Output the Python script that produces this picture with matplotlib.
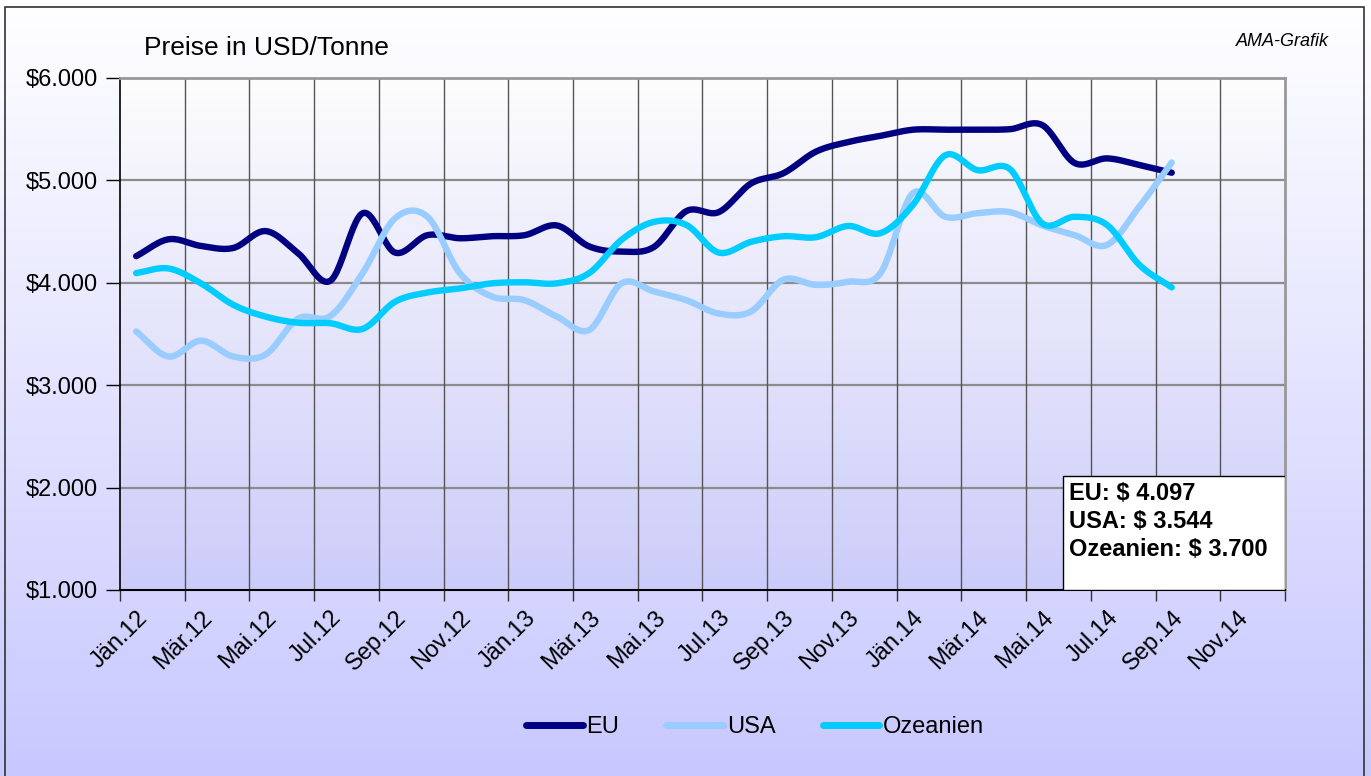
import numpy as np
import matplotlib
matplotlib.use("Agg")
import matplotlib.pyplot as plt
from matplotlib.patches import Rectangle
from matplotlib.ticker import FixedLocator, FuncFormatter
from matplotlib.colors import LinearSegmentedColormap

# ---------------- data ----------------
months = ["Jän.12", "Feb.12", "Mär.12", "Apr.12", "Mai.12", "Jun.12", "Jul.12", "Aug.12",
          "Sep.12", "Okt.12", "Nov.12", "Dez.12",
          "Jän.13", "Feb.13", "Mär.13", "Apr.13", "Mai.13", "Jun.13", "Jul.13", "Aug.13",
          "Sep.13", "Okt.13", "Nov.13", "Dez.13",
          "Jän.14", "Feb.14", "Mär.14", "Apr.14", "Mai.14", "Jun.14", "Jul.14", "Aug.14",
          "Sep.14", "Okt.14", "Nov.14", "Dez.14"]

eu = [4260, 4425, 4360, 4340, 4505, 4290, 4020, 4680, 4295, 4465, 4435, 4455,
      4465, 4560, 4355, 4305, 4350, 4700, 4690, 4970, 5070, 5280, 5375, 5435,
      5495, 5495, 5495, 5500, 5540, 5170, 5215, 5150, 5075]
usa = [3525, 3280, 3435, 3280, 3300, 3650, 3675, 4095, 4630, 4645, 4095, 3865,
       3830, 3670, 3540, 3995, 3915, 3830, 3700, 3720, 4030, 3980, 4010, 4095,
       4875, 4645, 4680, 4690, 4560, 4465, 4370, 4745, 5175]
ozeanien = [4095, 4140, 3995, 3785, 3670, 3610, 3605, 3550, 3815, 3905, 3945, 3995,
            4005, 3995, 4095, 4420, 4595, 4565, 4295, 4400, 4455, 4445, 4555, 4485,
            4760, 5245, 5100, 5110, 4580, 4645, 4565, 4175, 3955]

series_names = ["EU", "USA", "Ozeanien"]
series_colors = ["#000080", "#99ccff", "#00ccff"]
yticks = [1000, 2000, 3000, 4000, 5000, 6000]
box_lines = ["EU: $ 4.097", "USA: $ 3.544", "Ozeanien: $ 3.700"]


def catmull_rom(y, n=24):
    y = np.asarray(y, dtype=float)
    x = np.arange(len(y), dtype=float)
    p = np.concatenate([[2 * y[0] - y[1]], y, [2 * y[-1] - y[-2]]])
    xs, ys = [], []
    for i in range(len(y) - 1):
        p0, p1, p2, p3 = p[i], p[i + 1], p[i + 2], p[i + 3]
        t = np.linspace(0, 1, n, endpoint=False)
        yy = 0.5 * ((2 * p1) + (-p0 + p2) * t + (2 * p0 - 5 * p1 + 4 * p2 - p3) * t ** 2
                    + (-p0 + 3 * p1 - 3 * p2 + p3) * t ** 3)
        xs.append(x[i] + t)
        ys.append(yy)
    xs.append([x[-1]])
    ys.append([y[-1]])
    return np.concatenate(xs), np.concatenate(ys)


W, H = 1371, 776
fig = plt.figure(figsize=(W / 100, H / 100), dpi=100)
plt.rcParams['font.family'] = ['Liberation Sans', 'DejaVu Sans']

# figure background gradient
bg = fig.add_axes([0, 0, 1, 1], zorder=-10)
bg.set_axis_off()
grad_fig = LinearSegmentedColormap.from_list("g1", ["#ffffff", "#c8c8ff"])
bg.imshow(np.linspace(0, 1, 256).reshape(-1, 1), cmap=grad_fig, aspect='auto',
          extent=[0, 1, 0, 1], origin='upper')
bg.set_xlim(0, 1)
bg.set_ylim(0, 1)
bg.add_patch(Rectangle((5 / W, -0.01), (1364 - 5) / W, 1 - 7 / H + 0.01, fill=False,
                       edgecolor="#333333", lw=1.2, transform=bg.transAxes))

# plot axes
L, R, T, B = 120, 1285, 78, 590
ax = fig.add_axes([L / W, (H - B) / H, (R - L) / W, (B - T) / H])
grad_ax = LinearSegmentedColormap.from_list("g2", ["#fdfdfd", "#ccccfa"])
ax.imshow(np.linspace(0, 1, 256).reshape(-1, 1), cmap=grad_ax, aspect='auto',
          extent=[-0.5, 35.5, 1000, 6000], origin='upper', zorder=0)
ax.set_xlim(-0.5, len(months) - 0.5)
ax.set_ylim(1000, 6000)

# grid
for v in yticks[1:]:
    ax.axhline(v, color="#8c8c8c", lw=1.6, zorder=1)
for k in range(1, 18):
    ax.axvline(-0.5 + 2 * k, color="#555555", lw=1.0, zorder=1)

for name, vals, col in zip(series_names, [eu, usa, ozeanien], series_colors):
    xs, ys = catmull_rom(vals)
    ax.plot(xs, ys, color=col, lw=4.6, solid_capstyle='round', solid_joinstyle='round',
            label=name, zorder=3)

# spines
for s in ["top", "right"]:
    ax.spines[s].set_color("#999999")
    ax.spines[s].set_linewidth(2)
ax.spines["left"].set_color("black")
ax.spines["bottom"].set_color("black")
ax.spines["left"].set_linewidth(1.2)
ax.spines["bottom"].set_linewidth(1.5)

ax.set_yticks(yticks)
ax.yaxis.set_major_formatter(FuncFormatter(lambda v, p: "${:,.0f}".format(v).replace(",", ".")))
ax.tick_params(axis='y', direction='out', length=10, width=1, labelsize=17, pad=6)

ax.xaxis.set_major_locator(FixedLocator([-0.5 + 2 * k for k in range(19)]))
ax.xaxis.set_minor_locator(FixedLocator(list(range(0, len(months), 2))))
ax.xaxis.set_major_formatter(FuncFormatter(lambda v, p: ""))
ax.set_xticklabels([months[i] for i in range(0, len(months), 2)], minor=True)
ax.tick_params(axis='x', which='major', direction='out', length=8, width=1, color="#333333")
ax.tick_params(axis='x', which='minor', length=0, labelsize=17, pad=12)
for lab in ax.get_xticklabels(minor=True):
    lab.set_rotation(45)
    lab.set_ha('right')
    lab.set_va('top')
    lab.set_rotation_mode('anchor')

# annotation box
bx0 = (1063 - L) / (R - L)
by1 = (B - 476) / (B - T)
ax.add_patch(Rectangle((bx0, 0), 1 - bx0, by1, transform=ax.transAxes, facecolor="white",
                       edgecolor="black", lw=1.0, zorder=5))
for i, txt in enumerate(box_lines):
    yc = (B - (494 + 27.5 * i)) / (B - T)
    ax.text((1069 - L) / (R - L), yc, txt, transform=ax.transAxes, fontsize=17,
            fontweight='bold', va='center', ha='left', zorder=6)

# titles
fig.text(266 / W, 1 - 48 / H, "Preise in USD/Tonne", fontsize=19, ha='center', va='center')
fig.text(1329 / W, 1 - 42 / H, "AMA-Grafik", fontsize=13, style='italic', ha='right',
         va='center')

leg = fig.legend(loc='center', bbox_to_anchor=(755 / W, 1 - 727 / H), ncol=3,
                 frameon=False, fontsize=17, handlelength=2.4, handletextpad=0.15,
                 columnspacing=2.0)
for line in leg.get_lines():
    line.set_linewidth(5)
    line.set_solid_capstyle('round')

fig.savefig("out.png", dpi=100)
